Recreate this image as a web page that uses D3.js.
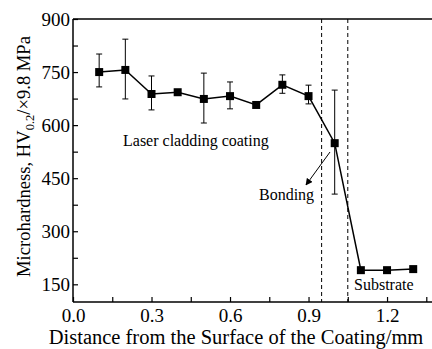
<!DOCTYPE html>
<html>
<head>
<meta charset="utf-8">
<script src="https://cdn.jsdelivr.net/npm/d3@7"></script>
<style>
  body { margin: 0; background: #fff; }
  svg { display: block; font-family: "Liberation Serif", "Times New Roman", serif; }
</style>
</head>
<body>
<svg width="432" height="349"></svg>
<script>
// data
const distance = [0.1, 0.2, 0.3, 0.4, 0.5, 0.6, 0.7, 0.8, 0.9, 1.0, 1.1, 1.2, 1.3];
const hardness = [750, 756, 688, 693, 674, 682, 657, 714, 682, 549, 190, 190, 193];
const errUpper = [801, 843, 739, 698, 747, 722, 661, 742, 713, 699, 193, 193, 196];
const errLower = [708, 674, 643, 688, 606, 646, 653, 690, 660, 405, 187, 187, 190];
const zoneLines = [0.95, 1.05];
const xTicks = [0.0, 0.3, 0.6, 0.9, 1.2];
const yTicks = [150, 300, 450, 600, 750, 900];

const svg = d3.select("svg");
const margin = { top: 19, left: 73, bottom: 47 };
const plotH = 349 - margin.top - margin.bottom;

const x = d3.scaleLinear().domain([0, 1.4]).range([margin.left, margin.left + 1.4 * 261.7]);
const y = d3.scaleLinear().domain([100, 900]).range([margin.top + plotH, margin.top]);

const pts = distance.map((d, i) => ({ x: d, y: hardness[i], hi: errUpper[i], lo: errLower[i] }));

// frame top line
svg.append("line")
  .attr("x1", x(0)).attr("x2", 432).attr("y1", y(900)).attr("y2", y(900))
  .attr("stroke", "#000").attr("stroke-width", 1.5);

// x axis, ticks inward
const xAxis = svg.append("g").attr("transform", `translate(0,${y(100)})`)
  .call(d3.axisBottom(x).tickValues(d3.range(0, 1.41, 0.15)).tickSize(-5).tickPadding(7)
    .tickFormat(d => xTicks.some(t => Math.abs(t - d) < 1e-6) ? d.toFixed(1) : ""));
xAxis.attr("font-family", null).attr("font-size", null);
xAxis.select(".domain").attr("stroke-width", 1.5).attr("d", `M${x(0)},0H432`);
xAxis.selectAll(".tick line").attr("stroke-width", 1.2);
xAxis.selectAll(".tick text").style("font-size", "19px").style("font-family", "Liberation Serif").attr("fill", "#000");

// y axis, ticks inward
const yAxis = svg.append("g").attr("transform", `translate(${x(0)},0)`)
  .call(d3.axisLeft(y).tickValues(d3.range(150, 901, 75)).tickSize(-5).tickPadding(3)
    .tickFormat(d => yTicks.includes(d) ? d : ""));
yAxis.attr("font-family", null).attr("font-size", null);
yAxis.select(".domain").attr("stroke-width", 1.5).attr("d", `M0,${y(100)}V${y(900)}`);
yAxis.selectAll(".tick line").attr("stroke-width", 1.2);
yAxis.selectAll(".tick text").style("font-size", "19px").style("font-family", "Liberation Serif").attr("fill", "#000");

// zone boundaries
svg.selectAll(".zone").data(zoneLines).enter().append("line")
  .attr("x1", d => x(d)).attr("x2", d => x(d))
  .attr("y1", y(900)).attr("y2", y(100))
  .attr("stroke", "#000").attr("stroke-width", 1).attr("stroke-dasharray", "4,3");

// error bars
const eb = svg.append("g").selectAll("g").data(pts).enter().append("g");
eb.append("line").attr("x1", d => x(d.x)).attr("x2", d => x(d.x))
  .attr("y1", d => y(d.hi)).attr("y2", d => y(d.lo)).attr("stroke", "#000").attr("stroke-width", 1);
eb.append("line").attr("x1", d => x(d.x) - 3).attr("x2", d => x(d.x) + 3)
  .attr("y1", d => y(d.hi)).attr("y2", d => y(d.hi)).attr("stroke", "#000").attr("stroke-width", 1);
eb.append("line").attr("x1", d => x(d.x) - 3).attr("x2", d => x(d.x) + 3)
  .attr("y1", d => y(d.lo)).attr("y2", d => y(d.lo)).attr("stroke", "#000").attr("stroke-width", 1);

// line + markers
svg.append("path").datum(pts)
  .attr("d", d3.line().x(d => x(d.x)).y(d => y(d.y)))
  .attr("fill", "none").attr("stroke", "#000").attr("stroke-width", 1.5);
svg.selectAll(".pt").data(pts).enter().append("rect")
  .attr("x", d => x(d.x) - 4).attr("y", d => y(d.y) - 4)
  .attr("width", 8).attr("height", 8).attr("fill", "#000");

// annotations
svg.append("defs").append("marker").attr("id", "arr")
  .attr("viewBox", "0 0 10 10").attr("refX", 9).attr("refY", 5)
  .attr("markerWidth", 7).attr("markerHeight", 7).attr("orient", "auto")
  .append("path").attr("d", "M0,0L10,5L0,10z").attr("fill", "#000");
svg.append("line").attr("x1", 330).attr("y1", 152).attr("x2", 306).attr("y2", 185)
  .attr("stroke", "#000").attr("stroke-width", 1).attr("marker-end", "url(#arr)");

svg.append("text").attr("x", 123).attr("y", 146).attr("font-size", 16).text("Laser cladding coating");
svg.append("text").attr("x", 259).attr("y", 200).attr("font-size", 16).text("Bonding");
svg.append("text").attr("x", 354).attr("y", 290).attr("font-size", 16).text("Substrate");

// axis titles
svg.append("text").attr("x", 236).attr("y", 344).attr("text-anchor", "middle")
  .attr("font-size", 20.5).text("Distance from the Surface of the Coating/mm");
const yl = svg.append("text").attr("transform", `translate(30,${(30 + 283) / 2}) rotate(-90)`)
  .attr("text-anchor", "middle").attr("font-size", 18.6);
yl.append("tspan").text("Microhardness, HV");
yl.append("tspan").attr("font-size", 12.5).attr("dy", 4).text("0.2");
yl.append("tspan").attr("dy", -4).text("/×9.8 MPa");
</script>
</body>
</html>
